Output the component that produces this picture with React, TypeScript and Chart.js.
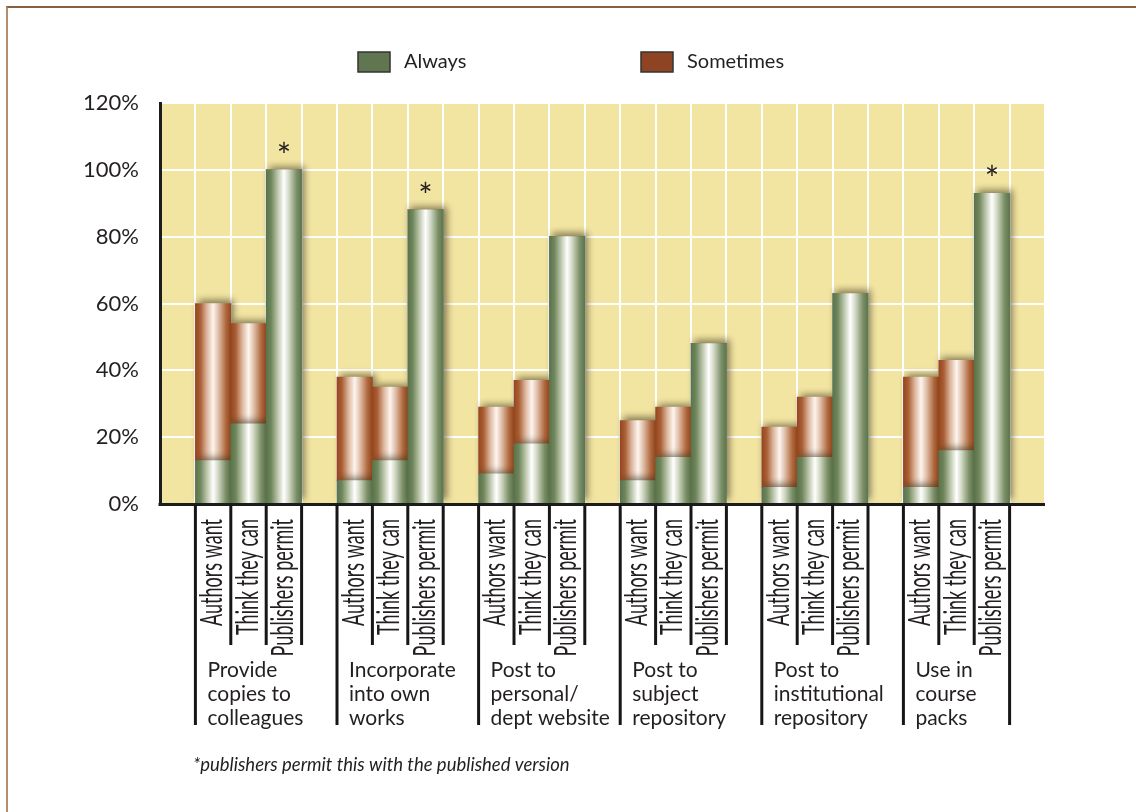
import React, { useEffect, useRef } from "react";
import { Chart, registerables } from "chart.js";

Chart.register(...registerables);

// ---------- data ----------
const seriesNames = ["Always", "Sometimes"];
const barLabels = ["Authors want", "Think they can", "Publishers permit"];
const groupLabels = [
  ["Provide", "copies to", "colleagues"],
  ["Incorporate", "into own", "works"],
  ["Post to", "personal/", "dept website"],
  ["Post to", "subject", "repository"],
  ["Post to", "institutional", "repository"],
  ["Use in", "course", "packs"],
];
// per bar, in group order (Authors want, Think they can, Publishers permit)
const alwaysValues = [13, 24, 100, 7, 13, 88, 9, 18, 80, 7, 14, 48, 5, 14, 63, 5, 16, 93];
const sometimesValues = [47, 30, 0, 31, 22, 0, 20, 19, 0, 18, 15, 0, 18, 18, 0, 33, 27, 0];
const asteriskBars = [
  false, false, true,
  false, false, true,
  false, false, false,
  false, false, false,
  false, false, false,
  false, false, true,
];
const yTicks = [0, 20, 40, 60, 80, 100, 120];
const footnote = "*publishers permit this with the published version";

// ---------- slot table (one empty slot before each group, and one at the end) ----------
const slotOf = (i: number) => 1 + Math.floor(i / 3) * 4 + (i % 3);
const SLOT_COUNT = 1 + groupLabels.length * 4;
const slotLabels: string[] = Array.from({ length: SLOT_COUNT }, () => "");
const slotAlways: (number | null)[] = Array.from({ length: SLOT_COUNT }, () => null);
const slotSometimes: (number | null)[] = Array.from({ length: SLOT_COUNT }, () => null);
alwaysValues.forEach((v, i) => {
  const s = slotOf(i);
  slotLabels[s] = barLabels[i % 3];
  slotAlways[s] = v;
  slotSometimes[s] = sometimesValues[i];
});

const FONT = "Lato, 'Open Sans', sans-serif";
const TEXT = "#231f20";

const greenStops: [number, string][] = [
  [0, "#5a734a"],
  [0.14, "#6f865c"],
  [0.32, "#b9c4a8"],
  [0.5, "#ffffff"],
  [0.64, "#d2d9c5"],
  [0.86, "#7a8e66"],
  [1, "#5c754c"],
];
const brownStops: [number, string][] = [
  [0, "#97461c"],
  [0.14, "#a95f36"],
  [0.32, "#dcb49b"],
  [0.5, "#fdf5ef"],
  [0.64, "#e2c3ae"],
  [0.86, "#b0693f"],
  [1, "#98481e"],
];

function barGradient(chart: any, index: number, stops: [number, string][]) {
  const xs = chart.scales?.x;
  if (!chart.chartArea || !xs) return stops[0][1];
  const cx = xs.getPixelForValue(index);
  const w = xs.width / SLOT_COUNT;
  const g = chart.ctx.createLinearGradient(cx - w / 2, 0, cx + w / 2, 0);
  stops.forEach(([o, c]) => g.addColorStop(o, c));
  return g;
}

const backgroundPlugin = {
  id: "plotBackground",
  beforeDraw(chart: any) {
    const { ctx, chartArea: a } = chart;
    if (!a) return;
    ctx.save();
    ctx.fillStyle = "#f2e4a1";
    ctx.fillRect(a.left, a.top, a.right - a.left, a.bottom - a.top);
    ctx.restore();
  },
};

const shadowPlugin = {
  id: "barShadow",
  beforeDatasetsDraw(chart: any) {
    const c = chart.ctx;
    c.save();
    c.shadowColor = "rgba(55,48,25,0.6)";
    c.shadowBlur = 7;
    c.shadowOffsetX = 3;
    c.shadowOffsetY = -3;
  },
  afterDatasetsDraw(chart: any) {
    const c = chart.ctx;
    c.restore();
    const a = chart.chartArea;
    c.save();
    c.strokeStyle = "#1c1c1c";
    c.lineWidth = 3;
    c.beginPath();
    c.moveTo(a.left - 1.5, a.bottom + 0.5);
    c.lineTo(a.right, a.bottom + 0.5);
    c.stroke();
    c.restore();
  },
};

const labelsPlugin = {
  id: "customLabels",
  afterDraw(chart: any) {
    const c = chart.ctx;
    const xs = chart.scales.x;
    const ys = chart.scales.y;
    const a = chart.chartArea;
    const w = xs.width / SLOT_COUNT;
    const axisY = a.bottom + 1;

    c.save();
    // separators + labels
    groupLabels.forEach((lines, g) => {
      const first = 1 + g * 4;
      const left = xs.getPixelForValue(first) - w / 2;
      c.strokeStyle = "#161616";
      c.lineWidth = 3;
      for (let k = 0; k <= 3; k++) {
        const x = left + k * w;
        const long = k === 0 || (k === 3 && g === groupLabels.length - 1);
        c.beginPath();
        c.moveTo(x, axisY);
        c.lineTo(x, long ? 725 : 645);
        c.stroke();
      }
      // rotated bar labels
      for (let k = 0; k < 3; k++) {
        const cx = xs.getPixelForValue(first + k);
        c.save();
        c.translate(cx + 9, 519);
        c.rotate(-Math.PI / 2);
        c.scale(0.6, 1);
        c.font = `30px ${FONT}`;
        c.fillStyle = TEXT;
        c.textAlign = "right";
        c.textBaseline = "alphabetic";
        c.fillText(slotLabels[first + k], 0, 0);
        c.restore();
      }
      // group labels
      c.font = `21px ${FONT}`;
      c.fillStyle = TEXT;
      c.textAlign = "left";
      c.textBaseline = "middle";
      lines.forEach((t, i) => c.fillText(t, left + 12, 670 + i * 24));
    });

    // asterisks
    c.font = `34px ${FONT}`;
    c.fillStyle = TEXT;
    c.textAlign = "center";
    c.textBaseline = "alphabetic";
    asteriskBars.forEach((flag, i) => {
      if (!flag) return;
      const s = slotOf(i);
      const top = ys.getPixelForValue(alwaysValues[i] + sometimesValues[i]);
      c.fillText("*", xs.getPixelForValue(s), top - 2);
    });

    // legend
    const legend = [
      { x: 358, color: "#5f7650" },
      { x: 641, color: "#8e4423" },
    ];
    legend.forEach((item, i) => {
      c.fillStyle = item.color;
      c.fillRect(item.x, 52, 32, 20);
      c.strokeStyle = "#333";
      c.lineWidth = 1.5;
      c.strokeRect(item.x, 52, 32, 20);
      c.fillStyle = TEXT;
      c.font = `20px ${FONT}`;
      c.textAlign = "left";
      c.textBaseline = "middle";
      c.fillText(seriesNames[i], item.x + 46, 62);
    });

    // footnote
    c.font = `italic 18.5px ${FONT}`;
    c.fillStyle = TEXT;
    c.textAlign = "left";
    c.textBaseline = "middle";
    c.fillText(footnote, 193, 765);
    c.restore();
  },
};

export default function App() {
  const ref = useRef<HTMLCanvasElement | null>(null);

  useEffect(() => {
    if (!ref.current) return;
    const chart = new Chart(ref.current, {
      type: "bar",
      data: {
        labels: slotLabels,
        datasets: [
          {
            label: seriesNames[0],
            data: slotAlways,
            backgroundColor: (ctx: any) => barGradient(ctx.chart, ctx.dataIndex, greenStops),
            borderWidth: 0,
            barPercentage: 1,
            categoryPercentage: 1,
            stack: "s",
          },
          {
            label: seriesNames[1],
            data: slotSometimes,
            backgroundColor: (ctx: any) => barGradient(ctx.chart, ctx.dataIndex, brownStops),
            borderWidth: 0,
            barPercentage: 1,
            categoryPercentage: 1,
            stack: "s",
          },
        ],
      },
      options: {
        responsive: false,
        animation: false,
        events: [],
        layout: { padding: { top: 103, right: 91, left: 0, bottom: 0 } },
        plugins: {
          legend: { display: false },
          tooltip: { enabled: false },
          title: { display: false },
        },
        scales: {
          x: {
            type: "category",
            stacked: true,
            offset: true,
            grid: { color: "#ffffff", lineWidth: 2, drawTicks: false, offset: true },
            border: { display: false },
            ticks: { display: false },
            afterFit: (s: any) => {
              s.height = 812 - 504;
            },
          },
          y: {
            stacked: true,
            min: 0,
            max: 120,
            afterBuildTicks: (s: any) => {
              s.ticks = yTicks.map((v) => ({ value: v }));
            },
            ticks: {
              callback: (v: any) => `${v}%`,
              color: TEXT,
              font: { family: FONT, size: 22 },
              padding: 21,
            },
            grid: { color: "#ffffff", lineWidth: 2, drawTicks: false },
            border: { display: true, color: "#1c1c1c", width: 3 },
            afterFit: (s: any) => {
              s.width = 160;
            },
          },
        },
      },
      plugins: [backgroundPlugin, shadowPlugin, labelsPlugin],
    } as any);

    let alive = true;
    if ((document as any).fonts?.load) {
      Promise.all([
        document.fonts.load(`20px Lato`),
        document.fonts.load(`italic 18px Lato`),
      ])
        .catch(() => null)
        .then(() => {
          if (alive) chart.update();
        });
    }
    return () => {
      alive = false;
      chart.destroy();
    };
  }, []);

  return (
    <div
      style={{
        position: "absolute",
        left: 0,
        top: 0,
        width: 1136,
        height: 812,
        overflow: "hidden",
        background: "#ffffff",
      }}
    >
      <div
        style={{
          position: "absolute",
          left: 6,
          top: 6,
          width: 1300,
          height: 1000,
          borderTop: "2px solid #8a5f3c",
          borderLeft: "2px solid #b38d6d",
        }}
      />
      <canvas
        ref={ref}
        width={1136}
        height={812}
        style={{ position: "absolute", left: 0, top: 0, width: 1136, height: 812 }}
      />
    </div>
  );
}
